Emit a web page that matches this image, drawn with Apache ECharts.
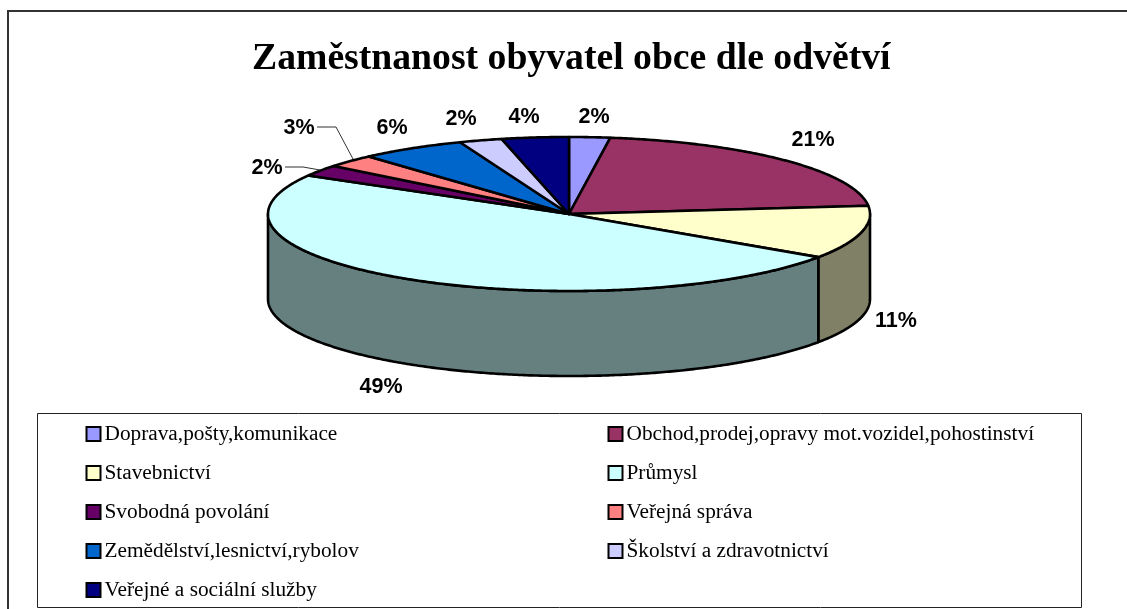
<!DOCTYPE html>
<html>
<head>
<meta charset="utf-8">
<style>html,body{margin:0;padding:0;background:#fff}#c{width:1127px;height:609px}</style>
<script src="https://cdn.jsdelivr.net/npm/echarts@6/dist/echarts.min.js"></script>
</head>
<body>
<div id="c"></div>
<script>
const titleText = 'Zaměstnanost obyvatel obce dle odvětví';
const categories = ['Doprava,pošty,komunikace','Obchod,prodej,opravy mot.vozidel,pohostinství','Stavebnictví','Průmysl','Svobodná povolání','Veřejná správa','Zemědělství,lesnictví,rybolov','Školství a zdravotnictví','Veřejné a sociální služby'];
const values = [2.2, 21.1, 11.2, 48.9, 2.4, 2.7, 5.7, 2.3, 3.6];
const colors = ['#9999FF','#993366','#FFFFCC','#CCFFFF','#660066','#FF8080','#0066CC','#CCCCFF','#000080'];

// layout (separate from data)
const PIE = {cx: 569, cy: 214, rx: 301, ry: 77, depth: 85};
const labelPos = [[594,117],[813,140],[896,321],[381,387],[267,168],[299,128],[392,128],[461,119],[524,117]];
const leaders = {4: [[285,167],[303,167],[320,170]], 5: [[317,127],[336,127],[353,159]]};

const total = values.reduce((a,b)=>a+b,0);
const starts = []; let acc = 0;
values.forEach(v => { starts.push(acc); acc += v/total*360; });
const pt = (deg, dy) => {
  const t = deg*Math.PI/180;
  return [PIE.cx + PIE.rx*Math.sin(t), PIE.cy - PIE.ry*Math.cos(t) + (dy||0)];
};
const arc = (a,b,dy) => {
  const out = [], n = Math.max(2, Math.ceil((b-a)*2));
  for (let i=0;i<=n;i++) out.push(pt(a+(b-a)*i/n, dy));
  return out;
};
const darker = hex => '#' + [1,3,5].map(i => Math.round(parseInt(hex.substr(i,2),16)/2).toString(16).padStart(2,'0')).join('');
const edge = {stroke:'#000', lineWidth:2.6, lineJoin:'round'};

// side walls: the part of each slice lying on the front half of the ellipse
const wallSeries = {
  type:'custom', name:'walls', coordinateSystem:'none', silent:true, z:2,
  data: values,
  renderItem(params){
    const i = params.dataIndex, a = Math.max(starts[i],90), b = Math.min(starts[i]+values[i]/total*360,270);
    if (b <= a) return {type:'group', children:[]};
    return {type:'polygon', shape:{points: arc(a,b,0).concat(arc(a,b,PIE.depth).reverse())},
      style:Object.assign({fill:darker(colors[i])}, edge)};
  }
};
// one series per category so that the legend can read it
const topSeries = categories.map((name,i) => ({
  type:'custom', name, coordinateSystem:'none', silent:true, z:3,
  itemStyle:{color:colors[i]},
  data:[values[i]],
  renderItem(){
    const a = starts[i], b = a + values[i]/total*360;
    return {type:'polygon', shape:{points:[[PIE.cx,PIE.cy]].concat(arc(a,b,0))},
      style:Object.assign({fill:colors[i]}, edge)};
  }
}));
const labelSeries = {
  type:'custom', name:'labels', coordinateSystem:'none', silent:true, z:4,
  data: values,
  renderItem(params){
    const i = params.dataIndex, kids = [{type:'text', style:{
      text: Math.round(values[i]/total*100)+'%', x:labelPos[i][0], y:labelPos[i][1],
      align:'center', verticalAlign:'middle', fill:'#000',
      font:'bold 21.5px "Liberation Sans", Arial, sans-serif'}}];
    if (leaders[i]) kids.push({type:'polyline', shape:{points:leaders[i]}, style:{stroke:'#333', lineWidth:1, fill:null}});
    return {type:'group', children:kids};
  }
};
const legendBase = {
  orient:'vertical', itemWidth:14, itemHeight:14, itemGap:18, padding:0,
  icon:'rect', selectedMode:false,
  itemStyle:{borderColor:'#000', borderWidth:2},
  textStyle:{fontFamily:'"Liberation Serif","Times New Roman",serif', fontSize:21.3, lineHeight:20, color:'#000', padding:[0,0,0,-1]}
};
const chart = echarts.init(document.getElementById('c'), null, {renderer:'canvas'});
chart.setOption({
  animation:false, backgroundColor:'#fff',
  title:{text:titleText, left:252, top:40, padding:0, itemGap:0,
    textStyle:{fontFamily:'"Liberation Serif","Times New Roman",serif', fontWeight:'bold', fontSize:37.7, color:'#000'}},
  legend:[
    Object.assign({}, legendBase, {left:85.5, top:423.5, data:categories.filter((_,i)=>i%2===0)}),
    Object.assign({}, legendBase, {left:607.5, top:423.5, data:categories.filter((_,i)=>i%2===1)})
  ],
  graphic:[
    {type:'polyline', silent:true, z:-1, shape:{points:[[8,609],[8,11],[1127,11]]}, style:{stroke:'#333',lineWidth:2,fill:null}},
    {type:'rect', silent:true, z:-1, shape:{x:37.5,y:413.5,width:1044,height:194}, style:{stroke:'#222',lineWidth:1,fill:'#fff'}}
  ],
  series:[wallSeries].concat(topSeries,[labelSeries])
});
</script>
</body>
</html>
